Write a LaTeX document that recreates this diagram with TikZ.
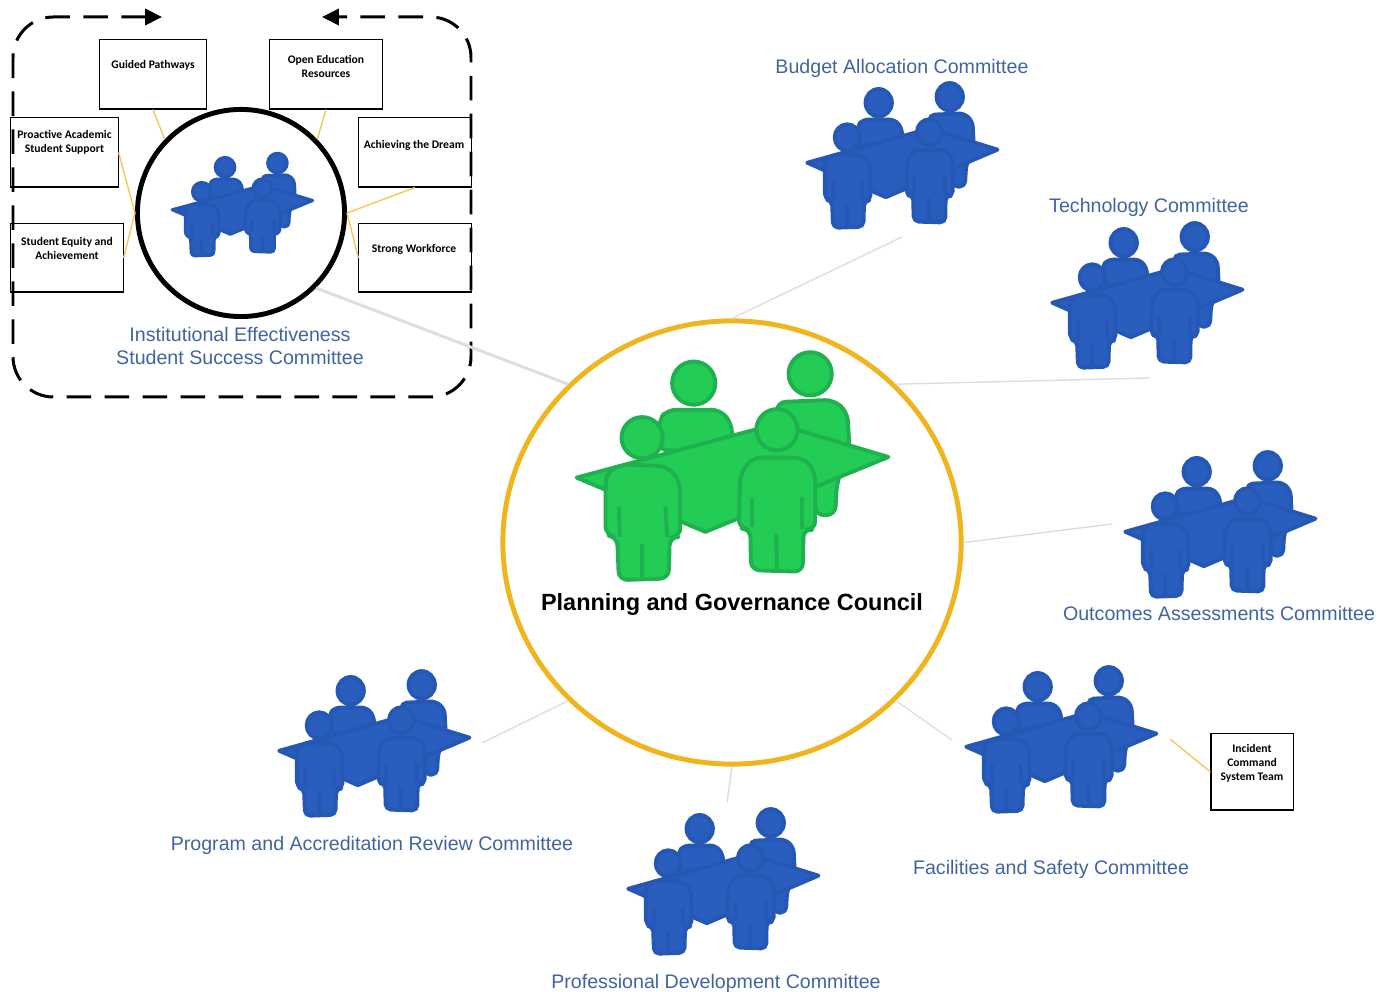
\documentclass[tikz,border=0pt]{standalone}
\usepackage{fontspec}
\setmainfont{Liberation Sans}
\newfontfamily\boxfont{Carlito}
\usetikzlibrary{arrows.meta,shapes.geometric}
\definecolor{councilgold}{HTML}{F0B41E}
\definecolor{linkgold}{HTML}{F2C95A}
\definecolor{linkgray}{HTML}{DEDEDE}
\definecolor{titleblue}{HTML}{41649F}
\definecolor{teamgreen}{HTML}{22CC55}
\definecolor{teamgreenline}{HTML}{1FB050}
\definecolor{teamblue}{HTML}{2A5EBE}
\definecolor{teamblueline}{HTML}{2557B4}
\tikzset{
  team/.pic={
    \begin{scope}[x=0.003333cm,y=-0.003333cm,shift={(-500,-380)}]
      % back row
      \path [pic actions] (400,128) circle [radius=65];
      \path [pic actions] (295,330) -- (295,240) -- (320,208) -- (480,208) -- (515,250) -- (515,330) -- cycle;
      \path [pic actions] (750,100) circle [radius=65];
      \path [pic actions] (650,230) -- (650,185) -- (820,178) -- (862,215) -- (868,325) -- (830,430) -- (825,525) -- (765,525) -- (765,430) -- cycle;
      % table
      \path [pic actions,sharp corners] (48,412) -- (650,250) -- (985,350) -- (435,575) -- cycle;
      % front left
      \path [pic actions] (245,292) circle [radius=62];
      \path [pic actions] (135,430) -- (140,395) -- (185,372) -- (320,378) -- (358,420) -- (360,590) -- (328,590) -- (325,715) -- (175,720) -- (170,590) -- (135,585) -- cycle;
      \path [pic actions,fill=none] (175,500) -- (178,590) (315,500) -- (320,590) (245,610) -- (245,715);
      % front right
      \path [pic actions] (650,268) circle [radius=62];
      \path [pic actions] (535,565) -- (540,400) -- (575,352) -- (730,352) -- (765,395) -- (765,570) -- (730,565) -- (728,695) -- (572,690) -- (570,565) -- cycle;
      \path [pic actions,fill=none] (575,475) -- (575,560) (725,470) -- (725,565) (648,580) -- (650,690);
    \end{scope}
  },
  greenteam/.style={fill=teamgreen,draw=teamgreenline,line width=1.1pt,line join=round,rounded corners=2.5pt},
  blueteam/.style={fill=teamblue,draw=teamblueline,line width=1.1pt,line join=round,rounded corners=1.5pt,xscale=0.61,yscale=0.635},
  smallteam/.style={fill=teamblue,draw=teamblueline,line width=0.9pt,line join=round,rounded corners=1pt,xscale=0.45,yscale=0.45},
  committee/.style={text=titleblue,inner sep=0pt,align=center,font=\fontsize{5.58}{6.5}\selectfont},
  boxlabel/.style={inner sep=0pt,align=center,font=\boxfont\bfseries\fontsize{3.3}{4}\selectfont},
  topicbox/.style={draw=black,line width=0.3pt,inner sep=0pt},
  goldlink/.style={draw=linkgold,line width=0.4pt},
  graylink/.style={draw=linkgray,line width=0.4pt}
}
\begin{document}
\begin{tikzpicture}[x=0.01cm,y=-0.01cm]
  \useasboundingbox (0,0) rectangle (1390,992);

  % Drawing council circle
  \node [draw=councilgold,line width=1.4pt,ellipse,inner sep=0pt,minimum width=4.58cm,minimum height=4.43cm] (council) at (732,542.5) {};

  % Drawing effectiveness circle
  \node [draw=black,line width=1.4pt,circle,inner sep=0pt,minimum size=2.07cm] (effcircle) at (241,213) {};

  % Drawing dashed frame
  \coordinate (framestart) at (162,17);
  \coordinate (frameend) at (322,17);
  \draw [line width=0.85pt,dash pattern=on 7pt off 3.8pt,rounded corners=11.5pt,{Triangle[length=4.8pt,width=4.6pt]}-{Triangle[length=4.8pt,width=4.6pt]}]
    (framestart) -- (13,17) -- (13,397) -- (471,397) -- (471,17) -- (frameend);

  % Drawing teams
  \pic [greenteam] (councilteam) at (727,467) {team};
  \pic [smallteam] (effteam) at (240,205) {team};
  \pic [blueteam] (budgetteam) at (899,156) {team};
  \pic [blueteam] (techteam) at (1144,296) {team};
  \pic [blueteam] (outcometeam) at (1217,525) {team};
  \pic [blueteam] (facilityteam) at (1058,740) {team};
  \pic [blueteam] (profteam) at (720,882) {team};
  \pic [blueteam] (programteam) at (371,744) {team};

  % Marking committee names
  \node [inner sep=0pt,font=\bfseries\fontsize{6.67}{8}\selectfont] (councillabel) at (732,604) {Planning and Governance Council};
  \node [committee] (efflabel) at (240,346) {Institutional Effectiveness\\Student Success Committee};
  \node [committee] (budgetlabel) at (902,68) {Budget Allocation Committee};
  \node [committee] (techlabel) at (1149,207) {Technology Committee};
  \node [committee] (outcomelabel) at (1219,613) {Outcomes Assessments Committee};
  \node [committee] (facilitylabel) at (1051,869) {Facilities and Safety Committee};
  \node [committee] (proflabel) at (716,983) {Professional Development Committee};
  \node [committee] (programlabel) at (372,845) {Program and Accreditation Review Committee};

  % Drawing topic boxes
  \node [topicbox,minimum width=1.06cm,minimum height=0.69cm] (guidedbox) at (153,74.5) {};
  \node [topicbox,minimum width=1.12cm,minimum height=0.69cm] (openbox) at (326,74.5) {};
  \node [topicbox,minimum width=1.07cm,minimum height=0.69cm] (proactivebox) at (64.5,152.5) {};
  \node [topicbox,minimum width=1.12cm,minimum height=0.69cm] (dreambox) at (415,152.5) {};
  \node [topicbox,minimum width=1.12cm,minimum height=0.68cm] (equitybox) at (67,258) {};
  \node [topicbox,minimum width=1.12cm,minimum height=0.68cm] (workforcebox) at (415,258) {};
  \node [topicbox,minimum width=0.82cm,minimum height=0.76cm] (incidentbox) at (1252,772) {};

  % Marking topic names
  \node [boxlabel] (guidedlabel) at (153,65.5) {Guided Pathways};
  \node [boxlabel] (openlabel) at (326,66.5) {Open Education\\Resources};
  \node [boxlabel] (proactivelabel) at (64.5,142.5) {Proactive Academic\\Student Support};
  \node [boxlabel] (dreamlabel) at (414,145.5) {Achieving the Dream};
  \node [boxlabel] (equitylabel) at (67,248.5) {Student Equity and\\Achievement};
  \node [boxlabel] (workforcelabel) at (414,249.5) {Strong Workforce};
  \node [boxlabel] (incidentlabel) at (1252,763.5) {Incident\\Command\\System Team};

  % Drawing gold links
  \draw [goldlink] (guidedbox.south) -- (effcircle.136);
  \draw [goldlink] (openbox.south) -- (effcircle.44);
  \draw [goldlink] (proactivebox.east) -- (effcircle.180);
  \draw [goldlink] (equitybox.east) -- (effcircle.180);
  \draw [goldlink] (dreambox.south) -- (effcircle.0);
  \draw [goldlink] (workforcebox.west) -- (effcircle.0);
  \coordinate (incidentend) at (1170,739);
  \draw [goldlink] (incidentbox.west) -- (incidentend);

  % Drawing gray links
  \coordinate (budgetend) at (902,237);
  \coordinate (techend) at (1150,378);
  \coordinate (outcomeend) at (1112,524);
  \coordinate (facilityend) at (952,740);
  \coordinate (profend) at (727,802);
  \coordinate (programend) at (482,743);
  \draw [graylink] (council.90) -- (budgetend);
  \draw [graylink] (council.44) -- (techend);
  \draw [graylink] (council.0) -- (outcomeend);
  \draw [graylink] (council.-44) -- (facilityend);
  \draw [graylink] (council.-90) -- (profend);
  \draw [graylink] (council.224) -- (programend);
  \draw [draw=linkgray,line width=0.85pt] (council.136) -- (effcircle.-45);
\end{tikzpicture}
\end{document}
